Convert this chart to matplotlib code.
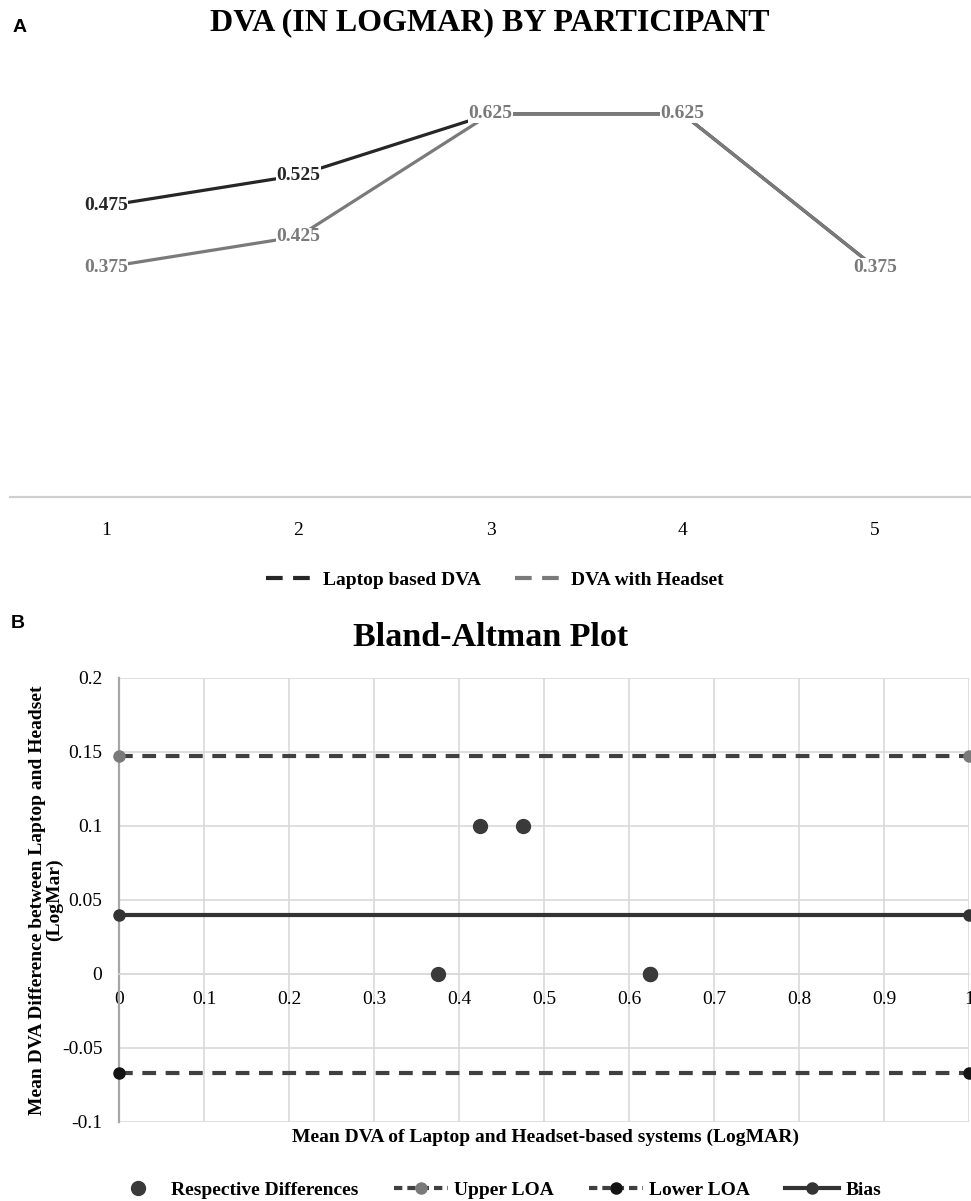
import matplotlib
matplotlib.use('Agg')
import matplotlib.pyplot as plt
from matplotlib.lines import Line2D

plt.rcParams['font.family'] = ['Liberation Serif', 'DejaVu Serif']

# panel A data: DVA per participant
participants = [1, 2, 3, 4, 5]
laptop_dva = [0.475, 0.525, 0.625, 0.625, 0.375]
headset_dva = [0.375, 0.425, 0.625, 0.625, 0.375]

# panel B data: Bland-Altman
mean_dva = [0.375, 0.425, 0.475, 0.625, 0.625]
diff_dva = [0.0, 0.1, 0.1, 0.0, 0.0]
bias = 0.04
upper_loa = 0.147
lower_loa = -0.067
x_ticks = [0, 0.1, 0.2, 0.3, 0.4, 0.5, 0.6, 0.7, 0.8, 0.9, 1]
x_tick_labels = ['0', '0.1', '0.2', '0.3', '0.4', '0.5', '0.6', '0.7', '0.8', '0.9', '1']
y_ticks = [-0.1, -0.05, 0, 0.05, 0.1, 0.15, 0.2]
y_tick_labels = ['-0.1', '-0.05', '0', '0.05', '0.1', '0.15', '0.2']

W, H = 971, 1201
dark = '#262626'
gray = '#7a7a7a'
grid_c = '#d9d9d9'


def fx(px):
    return px / W


def fy(py):
    return 1 - py / H


fig = plt.figure(figsize=(W / 100, H / 100), dpi=100)

# ---------------- panel A ----------------
axA = fig.add_axes([fx(10), fy(497), fx(961), (497 - 68) / H])
axA.plot(participants, laptop_dva, color=dark, lw=2.3, solid_capstyle='butt')
axA.plot(participants, headset_dva, color=gray, lw=2.3, solid_capstyle='butt')
for x, v in zip(participants, laptop_dva):
    axA.text(x, v, f'{v:.3f}', ha='center', va='center', fontsize=14, fontweight='bold',
             color=dark, zorder=5, bbox=dict(facecolor='white', edgecolor='none', pad=0.3))
for x, v in zip(participants, headset_dva):
    axA.text(x, v, f'{v:.3f}', ha='center', va='center', fontsize=14, fontweight='bold',
             color=gray, zorder=6, bbox=dict(facecolor='white', edgecolor='none', pad=0.3))
axA.set_xlim(0.5, 5.5)
axA.set_ylim(0, 0.7)
axA.set_xticks(participants)
axA.set_yticks([])
for s in ['top', 'right', 'left']:
    axA.spines[s].set_visible(False)
axA.spines['bottom'].set_color('#cfcfcf')
axA.spines['bottom'].set_linewidth(1.6)
axA.tick_params(axis='x', length=0, pad=18, labelsize=14)

legA = [Line2D([], [], color=dark, lw=3, ls=(0, (4, 2.5))),
        Line2D([], [], color=gray, lw=3, ls=(0, (4, 2.5)))]
fig.legend(legA, ['Laptop based DVA', 'DVA with Headset'], loc='center',
           bbox_to_anchor=(fx(495), fy(580)), ncol=2, frameon=False,
           prop={'size': 14, 'weight': 'bold'}, handlelength=2.3, handletextpad=0.6,
           columnspacing=1.75)

fig.text(fx(490), fy(23), 'DVA (IN LOGMAR) BY PARTICIPANT', ha='center', va='center',
         fontsize=23, fontweight='bold')
fig.text(fx(20), fy(28), 'A', ha='center', va='center', fontsize=14, fontweight='bold',
         family='Liberation Sans')

# ---------------- panel B ----------------
axB = fig.add_axes([fx(119), fy(1122), fx(850), (1122 - 678) / H])
axB.set_xlim(0, 1)
axB.set_ylim(-0.1, 0.2)
axB.set_xticks(x_ticks)
axB.set_xticklabels(x_tick_labels)
axB.set_yticks(y_ticks)
axB.set_yticklabels(y_tick_labels)
axB.grid(True, color=grid_c, lw=1.2)
axB.set_axisbelow(True)
for s in ['top', 'right']:
    axB.spines[s].set_visible(False)
axB.spines['bottom'].set_position(('data', 0))
axB.spines['bottom'].set_color(grid_c)
axB.spines['bottom'].set_linewidth(1.2)
axB.spines['left'].set_color('#a6a6a6')
axB.spines['left'].set_linewidth(1.6)
axB.tick_params(axis='both', length=0, labelsize=14)
axB.tick_params(axis='x', pad=12)
axB.tick_params(axis='y', pad=12)

axB.plot([0, 1], [upper_loa, upper_loa], color='#404040', lw=3, ls=(0, (3.3, 2.3)),
         marker='o', ms=8, mfc=gray, mec=gray, clip_on=False, zorder=3)
axB.plot([0, 1], [lower_loa, lower_loa], color='#404040', lw=3, ls=(0, (3.3, 2.3)),
         marker='o', ms=8, mfc='#141414', mec='#141414', clip_on=False, zorder=3)
axB.plot([0, 1], [bias, bias], color='#333333', lw=3, marker='o', ms=8,
         mfc='#333333', mec='#333333', clip_on=False, zorder=3)
axB.plot(mean_dva, diff_dva, ls='none', marker='o', ms=10, color='#3a3a3a', zorder=4)

fig.text(fx(491), fy(637), 'Bland-Altman Plot', ha='center', va='center',
         fontsize=24.5, fontweight='bold')
fig.text(fx(18), fy(624), 'B', ha='center', va='center', fontsize=14, fontweight='bold',
         family='Liberation Sans')
fig.text(fx(546), fy(1137), 'Mean DVA of Laptop and Headset-based systems (LogMAR)',
         ha='center', va='center', fontsize=14, fontweight='bold')
fig.text(fx(46), fy(900), 'Mean DVA Difference between Laptop and Headset\n(LogMar)',
         ha='center', va='center', rotation=90, fontsize=14, fontweight='bold',
         multialignment='center', linespacing=0.95)

legB = [Line2D([], [], ls='none', marker='o', ms=10, color='#3a3a3a'),
        Line2D([], [], color='#404040', lw=3, ls=(0, (2, 1.2)), marker='o', ms=8,
               mfc=gray, mec=gray),
        Line2D([], [], color='#404040', lw=3, ls=(0, (2, 1.2)), marker='o', ms=8,
               mfc='#141414', mec='#141414'),
        Line2D([], [], color='#333333', lw=3, marker='o', ms=8)]
fig.legend(legB, ['Respective Differences', 'Upper LOA', 'Lower LOA', 'Bias'], loc='center',
           bbox_to_anchor=(fx(496), fy(1190)), ncol=4, frameon=False,
           prop={'size': 14, 'weight': 'bold'}, handlelength=2.8, handletextpad=0.3,
           columnspacing=1.8)

fig.savefig('out.png', dpi=100)
